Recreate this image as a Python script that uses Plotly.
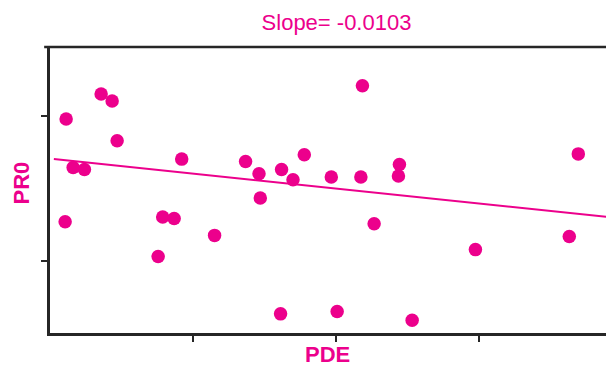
import plotly.graph_objects as go

# Data (PDE vs PR0)
pde = [1.13, 3.58, 4.35, 4.70, 1.62, 2.41, 9.22, 1.06, 7.89, 8.69,
       11.52, 7.57, 21.87, 13.69, 17.80, 14.63, 16.21, 17.01, 19.69, 21.76,
       24.46, 24.39, 14.72, 22.69, 16.14, 20.10, 25.35, 36.98, 36.35, 29.78]
pr0 = [1.977, 2.149, 2.101, 1.826, 1.642, 1.628, 1.700, 1.268, 1.301, 1.291,
       1.174, 1.028, 2.206, 1.683, 1.730, 1.599, 1.628, 1.557, 1.576, 1.576,
       1.663, 1.583, 1.432, 1.255, 0.633, 0.649, 0.589, 1.736, 1.167, 1.076]

slope = -0.0103
intercept = 1.703
line_x = [0.27, 41.0]
line_y = [intercept + slope * v for v in line_x]

x_ticks = [10, 20, 30]
y_ticks = [1, 2]
x_range = [0, 38.92]
y_range = [0.501, 2.473]

PINK = "#EC008C"
AX = "#262626"
FONT = "Liberation Sans, Arial, sans-serif"

fig = go.Figure()
fig.add_trace(go.Scatter(x=line_x, y=line_y, mode="lines",
                         line=dict(color=PINK, width=2), hoverinfo="skip"))
fig.add_trace(go.Scatter(x=pde, y=pr0, mode="markers",
                         marker=dict(color=PINK, size=13.5, line=dict(width=0))))

fig.update_layout(
    width=606, height=367,
    margin=dict(l=49.5, r=0, t=46.7, b=33.5),
    paper_bgcolor="white", plot_bgcolor="white",
    showlegend=False,
    font=dict(family=FONT, color=PINK),
    title=dict(text="Slope= -0.0103", x=336.5 / 606, xanchor="center",
               y=1 - 22 / 367, yanchor="middle",
               font=dict(family=FONT, size=22, color=PINK)),
    xaxis=dict(range=x_range, tickvals=x_ticks, showticklabels=False,
               ticks="outside", ticklen=6, tickwidth=2, tickcolor=AX,
               showline=True, linecolor=AX, linewidth=2.5,
               showgrid=False, zeroline=False),
    yaxis=dict(range=y_range, tickvals=y_ticks, showticklabels=False,
               ticks="outside", ticklen=6, tickwidth=2, tickcolor=AX,
               showline=True, linecolor=AX, linewidth=2.5,
               showgrid=False, zeroline=False),
    shapes=[dict(type="line", xref="paper", yref="paper",
                 x0=-0.0105, x1=1.0, y0=1, y1=1,
                 line=dict(color=AX, width=2.5))],
    annotations=[
        dict(text="<b>PDE</b>", xref="paper", yref="paper",
             x=(327.5 - 49.5) / 556.5, y=-(355 - 333.5) / 286.8,
             xanchor="center", yanchor="middle", showarrow=False,
             font=dict(family=FONT, size=22, color=PINK)),
        dict(text="<b>PR0</b>", xref="paper", yref="paper",
             x=-(49.5 - 21) / 556.5, y=(333.5 - 183) / 286.8,
             xanchor="center", yanchor="middle", showarrow=False,
             textangle=-90,
             font=dict(family=FONT, size=22, color=PINK)),
    ],
)

fig.write_html("out.html")
